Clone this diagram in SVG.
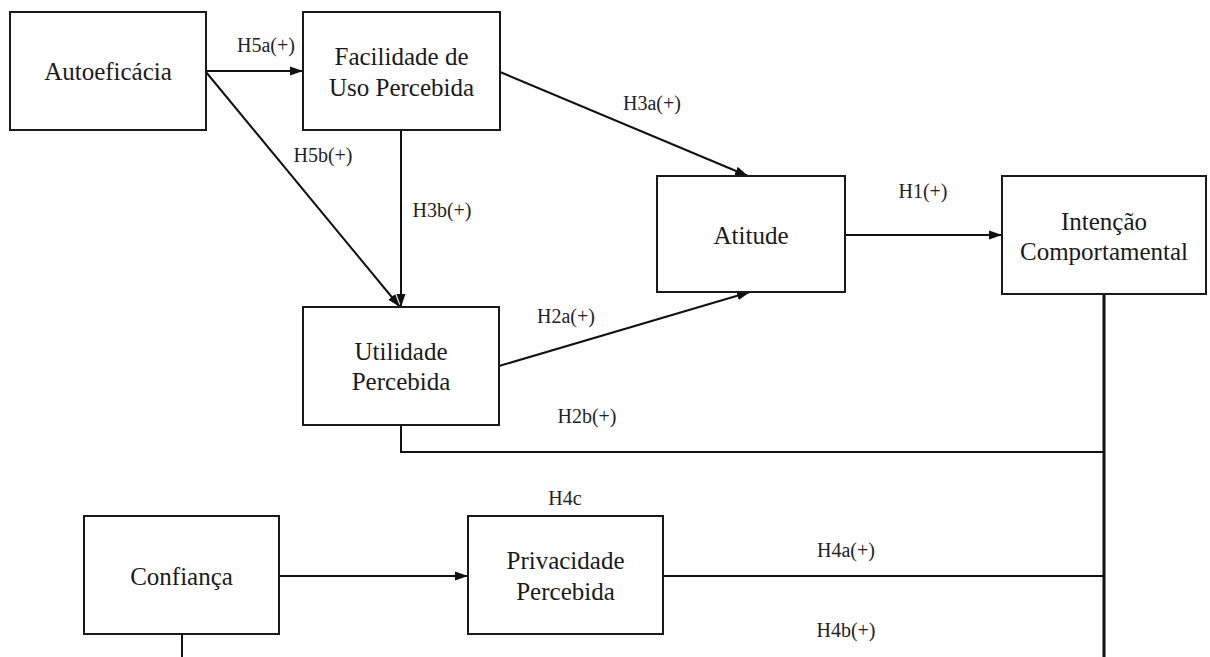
<svg xmlns="http://www.w3.org/2000/svg" width="1210" height="657" viewBox="0 0 1210 657">
<style>
.box{fill:#fff;stroke:#1a1a1a;stroke-width:2}
.nt{font-size:25px;fill:#1a1a1a;text-anchor:middle}
.lb{font-size:20px;fill:#222;text-anchor:middle}
.ln{stroke:#111;stroke-width:2;fill:none}
.trunk{stroke:#111;stroke-width:3;fill:none}
</style>
<defs>
<marker id="ah" markerUnits="userSpaceOnUse" markerWidth="14" markerHeight="10" refX="13" refY="5" orient="auto">
<path d="M0,0.5 L13,5 L0,9.5 z" fill="#111"/>
</marker>
</defs>
<rect width="1210" height="657" fill="#fff"/>
<g id="connectors">
<path class="ln" d="M206,71 L303,71" marker-end="url(#ah)"/>
<path class="ln" d="M206,72 L400,307" marker-end="url(#ah)"/>
<path class="ln" d="M401,130 L401,307" marker-end="url(#ah)"/>
<path class="ln" d="M500,72 L748,176" marker-end="url(#ah)"/>
<path class="ln" d="M499,366 L750,292" marker-end="url(#ah)"/>
<path class="ln" d="M845,235 L1002,235" marker-end="url(#ah)"/>
<path class="ln" d="M401,425 L401,452 L1104,452"/>
<path class="trunk" d="M1104,294 L1104,657"/>
<path class="ln" d="M279,576 L468,576" marker-end="url(#ah)"/>
<path class="ln" d="M663,576 L1104,576"/>
<path class="ln" d="M182,634 L182,657"/>
</g>
<g font-family="'Liberation Serif', 'DejaVu Serif', serif">
<g id="labels">
<text class="lb" x="266" y="52">H5a(+)</text>
<text class="lb" x="323" y="162">H5b(+)</text>
<text class="lb" x="442" y="217">H3b(+)</text>
<text class="lb" x="652" y="110">H3a(+)</text>
<text class="lb" x="923" y="198">H1(+)</text>
<text class="lb" x="566" y="323">H2a(+)</text>
<text class="lb" x="587" y="423">H2b(+)</text>
<text class="lb" x="565" y="505">H4c</text>
<text class="lb" x="846" y="557">H4a(+)</text>
<text class="lb" x="846" y="637">H4b(+)</text>
</g>
<g id="autoeficacia">
<rect class="box" x="10" y="12" width="196" height="118"/>
<text class="nt" x="108" y="80">Autoeficácia</text>
</g>
<g id="facilidade">
<rect class="box" x="303" y="12" width="197" height="118"/>
<text class="nt" x="401.5" y="65">Facilidade de</text>
<text class="nt" x="401.5" y="96">Uso Percebida</text>
</g>
<g id="utilidade">
<rect class="box" x="303" y="307" width="196" height="118"/>
<text class="nt" x="401" y="360">Utilidade</text>
<text class="nt" x="401" y="390">Percebida</text>
</g>
<g id="atitude">
<rect class="box" x="657" y="176" width="188" height="116"/>
<text class="nt" x="751" y="244">Atitude</text>
</g>
<g id="intencao">
<rect class="box" x="1002" y="176" width="204" height="118"/>
<text class="nt" x="1104" y="230">Intenção</text>
<text class="nt" x="1104" y="260">Comportamental</text>
</g>
<g id="confianca">
<rect class="box" x="84" y="516" width="195" height="118"/>
<text class="nt" x="181.5" y="585">Confiança</text>
</g>
<g id="privacidade">
<rect class="box" x="468" y="516" width="195" height="118"/>
<text class="nt" x="565.5" y="569">Privacidade</text>
<text class="nt" x="565.5" y="600">Percebida</text>
</g>
</g>
</svg>
